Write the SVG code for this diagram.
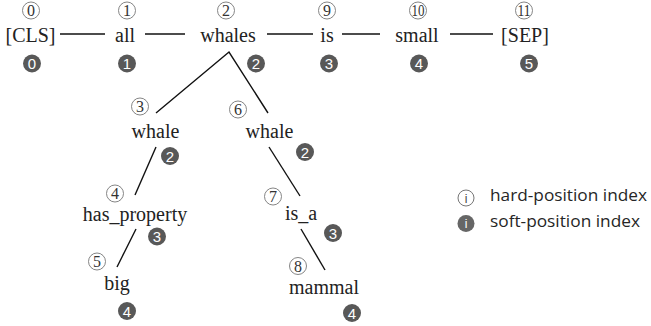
<svg xmlns="http://www.w3.org/2000/svg" width="651" height="326" viewBox="0 0 651 326">
  <style>
    .tok { font-family: "Liberation Serif", "Times New Roman", serif; font-size: 20px; fill: #222; text-anchor: middle; }
    .hc { fill: #fff; stroke: #777; stroke-width: 0.9; }
    .hn { font-family: "Liberation Serif", serif; font-size: 16px; fill: #333; text-anchor: middle; }
    .sc { fill: #585858; stroke: none; }
    .sn { font-family: "Liberation Sans", "DejaVu Sans", sans-serif; font-size: 15px; fill: #fff; text-anchor: middle; }
    .edge { stroke: #111; stroke-width: 1.4; fill: none; }
    .leg { font-family: "Open Sans", "Liberation Sans", sans-serif; font-size: 17px; fill: #262626; }
  </style>
  <defs>
    <circle id="hard" class="hc" r="8.5"/>
    <circle id="soft" class="sc" r="9"/>
  </defs>

  <!-- connectors -->
  <g id="edges">
    <line class="edge" x1="60" y1="34" x2="105" y2="34"/>
    <line class="edge" x1="145" y1="34" x2="185" y2="34"/>
    <line class="edge" x1="267" y1="34" x2="313" y2="34"/>
    <line class="edge" x1="342" y1="34" x2="380" y2="34"/>
    <line class="edge" x1="450" y1="34" x2="493" y2="34"/>
    <polyline class="edge" points="156,113 229,52 268,113"/>
    <line class="edge" x1="156" y1="147" x2="135" y2="195"/>
    <line class="edge" x1="269" y1="147" x2="300" y2="196"/>
    <line class="edge" x1="136" y1="229" x2="117" y2="267"/>
    <line class="edge" x1="301" y1="229" x2="325" y2="270"/>
  </g>

  <!-- sentence tokens -->
  <g id="n-cls">
    <use href="#hard" x="31" y="10.5"/><text class="hn" x="31" y="16">0</text>
    <text class="tok" x="30.5" y="42">[CLS]</text>
    <use href="#soft" x="32" y="63.5"/><text class="sn" x="32" y="69">0</text>
  </g>
  <g id="n-all">
    <use href="#hard" x="127" y="10.5"/><text class="hn" x="127" y="16">1</text>
    <text class="tok" x="125" y="42">all</text>
    <use href="#soft" x="127" y="63.5"/><text class="sn" x="127" y="69">1</text>
  </g>
  <g id="n-whales">
    <use href="#hard" x="226" y="10.5"/><text class="hn" x="226" y="16">2</text>
    <text class="tok" x="228" y="42">whales</text>
    <use href="#soft" x="256" y="63.5"/><text class="sn" x="256" y="69">2</text>
  </g>
  <g id="n-is">
    <use href="#hard" x="327" y="10.5"/><text class="hn" x="327" y="16">9</text>
    <text class="tok" x="327" y="42">is</text>
    <use href="#soft" x="329" y="63.5"/><text class="sn" x="329" y="69">3</text>
  </g>
  <g id="n-small">
    <use href="#hard" x="418" y="10.5"/><text class="hn" x="418" y="16" textLength="13" lengthAdjust="spacingAndGlyphs">10</text>
    <text class="tok" x="417" y="42">small</text>
    <use href="#soft" x="419" y="63.5"/><text class="sn" x="419" y="69">4</text>
  </g>
  <g id="n-sep">
    <use href="#hard" x="524" y="10.5"/><text class="hn" x="524" y="16" textLength="13" lengthAdjust="spacingAndGlyphs">11</text>
    <text class="tok" x="525" y="42">[SEP]</text>
    <use href="#soft" x="529" y="63.5"/><text class="sn" x="529" y="69">5</text>
  </g>

  <!-- knowledge branches -->
  <g id="n-whale-1">
    <use href="#hard" x="140" y="106.5"/><text class="hn" x="140" y="112">3</text>
    <text class="tok" x="155.5" y="138">whale</text>
    <use href="#soft" x="170" y="156"/><text class="sn" x="170" y="161.5">2</text>
  </g>
  <g id="n-whale-2">
    <use href="#hard" x="238" y="109.5"/><text class="hn" x="238" y="115">6</text>
    <text class="tok" x="269.5" y="138">whale</text>
    <use href="#soft" x="305" y="152"/><text class="sn" x="305" y="157.5">2</text>
  </g>
  <g id="n-has-property">
    <use href="#hard" x="115" y="193.5"/><text class="hn" x="115" y="199">4</text>
    <text class="tok" x="135" y="220.5">has_property</text>
    <use href="#soft" x="157" y="236.5"/><text class="sn" x="157" y="242">3</text>
  </g>
  <g id="n-big">
    <use href="#hard" x="97" y="261.5"/><text class="hn" x="97" y="267">5</text>
    <text class="tok" x="117" y="290">big</text>
    <use href="#soft" x="127" y="311"/><text class="sn" x="127" y="316.5">4</text>
  </g>
  <g id="n-is-a">
    <use href="#hard" x="273" y="196.5"/><text class="hn" x="273" y="202">7</text>
    <text class="tok" x="301" y="219.5">is_a</text>
    <use href="#soft" x="333" y="233"/><text class="sn" x="333" y="238.5">3</text>
  </g>
  <g id="n-mammal">
    <use href="#hard" x="298" y="266" /><text class="hn" x="298" y="271.5">8</text>
    <text class="tok" x="324" y="293.5">mammal</text>
    <use href="#soft" x="352" y="313"/><text class="sn" x="352" y="318.5">4</text>
  </g>

  <!-- legend -->
  <g id="legend">
    <circle cx="466" cy="198" r="8" fill="#fff" stroke="#666" stroke-width="0.9"/>
    <text x="466" y="202.5" text-anchor="middle" font-family="Liberation Sans, sans-serif" font-size="12" fill="#444">i</text>
    <text class="leg" x="490" y="201" textLength="157" lengthAdjust="spacingAndGlyphs">hard-position index</text>
    <circle cx="466" cy="223.5" r="8.5" fill="#666"/>
    <text x="466" y="228" text-anchor="middle" font-family="Liberation Sans, sans-serif" font-size="12" fill="#fff">i</text>
    <text class="leg" x="490" y="227" textLength="150" lengthAdjust="spacingAndGlyphs">soft-position index</text>
  </g>
</svg>
